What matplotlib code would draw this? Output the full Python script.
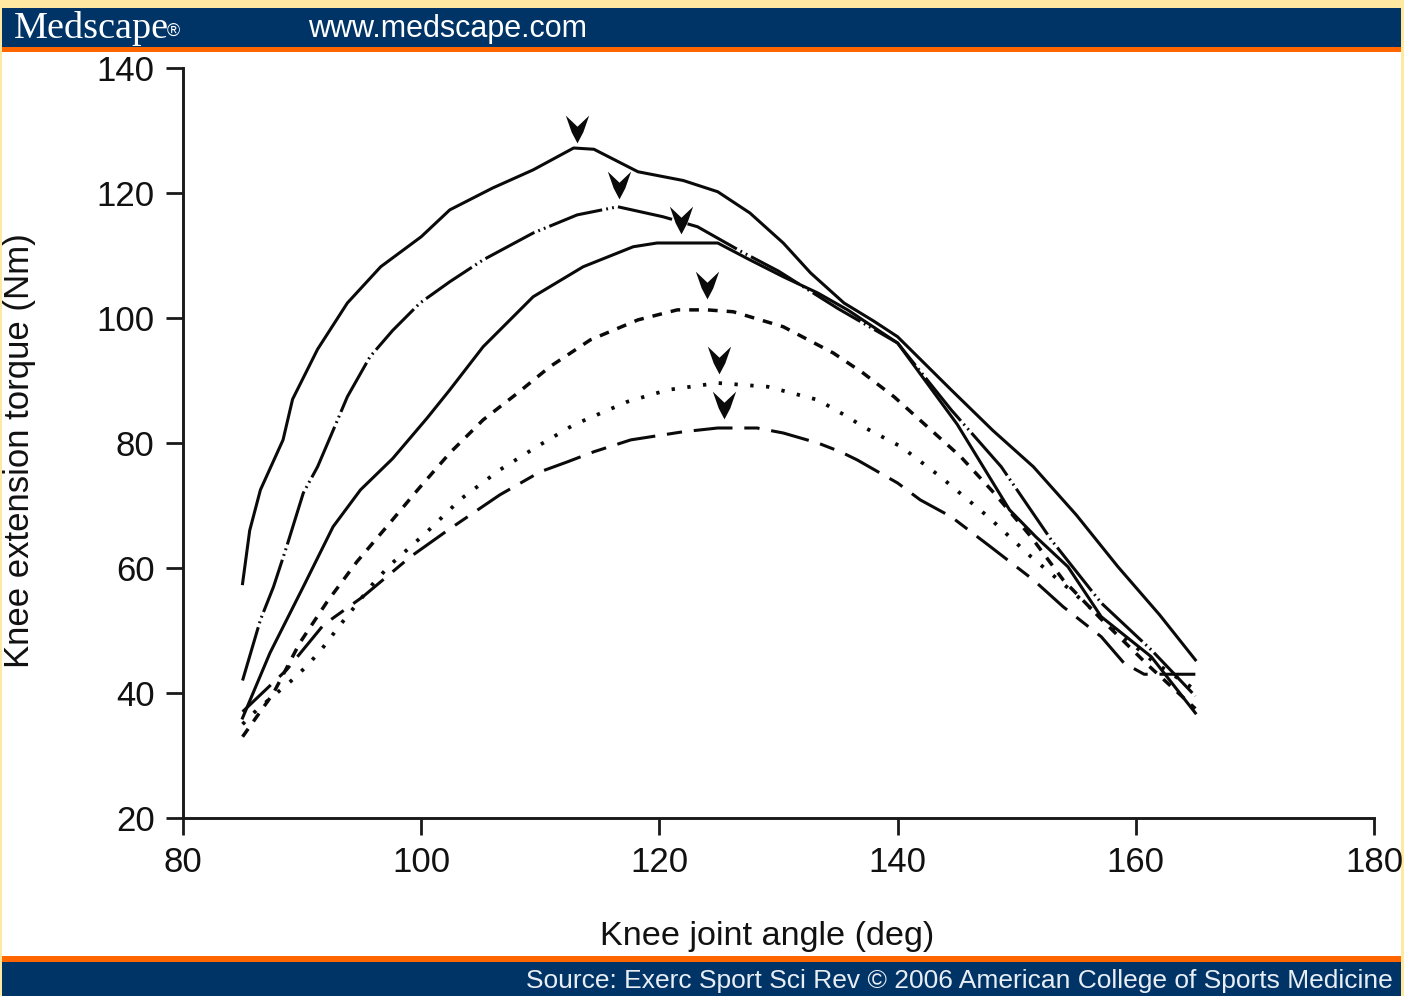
import matplotlib
matplotlib.use("Agg")
import matplotlib.pyplot as plt
from matplotlib.patches import Rectangle
from matplotlib.path import Path

plt.rcParams['font.family'] = ['Liberation Sans', 'DejaVu Sans']
plt.rcParams['lines.scale_dashes'] = False

# ---------------- data ----------------
x_ticks = [80, 100, 120, 140, 160, 180]
y_ticks = [20, 40, 60, 80, 100, 120, 140]

c1_x = [85, 85.6, 86.5, 88.4, 89.2, 91.3, 93.8, 96.6, 100, 102.4, 106, 109.4, 112.8, 114.5,
        118.2, 122, 124.9, 127.6, 130.4, 132.7, 135.5, 138, 140, 144.5, 148, 151.4, 155, 158.5, 162, 165]
c1_y = [57.5, 66, 72.5, 80.5, 87, 95, 102.4, 108.2, 113, 117.3, 120.8, 123.7, 127.2, 127,
        123.4, 122, 120.2, 116.8, 112, 107.2, 102.4, 99.5, 97, 88.5, 82, 76.2, 68.5, 60.2, 52.5, 45.3]

c2_x = [85, 86.5, 87.6, 88.7, 90.1, 91.3, 92.6, 93.8, 95.7, 97.6, 99.9, 102.4, 105.2, 109.4,
        113.1, 116.5, 120.3, 123.2, 127, 130, 135, 140, 144.5, 148.7, 152.9, 157.1, 161.3, 165]
c2_y = [42, 51.7, 57, 63.4, 72, 76.2, 82, 87.4, 93.8, 98, 102.4, 105.8, 109.3, 113.6,
        116.5, 117.8, 116.2, 114.6, 110.5, 107.5, 101.5, 96, 85.3, 76.2, 64.5, 54.4, 46.9, 39.5]

c3_x = [85, 87.3, 90.1, 92.6, 94.9, 97.6, 100.5, 102.4, 105.2, 109.4, 113.6, 117.8, 119.8,
        124.9, 127.6, 130.4, 133.3, 135.8, 140, 145, 149.4, 151.6, 154.3, 157.1, 161.3, 165]
c3_y = [36, 46.4, 57, 66.6, 72.5, 77.5, 84, 88.5, 95.4, 103.4, 108.2, 111.4, 112,
        112, 109.3, 106.6, 104, 101.3, 96, 83, 69.3, 65, 60.2, 52.2, 45.8, 36.8]

c4_x = [85, 87.6, 89.8, 92.1, 94.6, 97.1, 99.7, 102.4, 105.2, 108.1, 110.8, 114.2, 118.2, 121.5,
        124, 126.2, 130.4, 134.6, 137.1, 139.7, 142.5, 145.3, 148.1, 151.2, 153.9, 157, 161, 165]
c4_y = [33, 40, 48, 54.6, 61, 66.6, 72.5, 78.4, 83.7, 88, 92.2, 96.5, 99.7, 101.3,
        101.3, 101, 98.6, 94.4, 91.2, 87.4, 82.6, 77.8, 72, 65, 58.1, 52, 44.5, 37.5]

c5_x = [85, 86.2, 89, 90.5, 91.8, 93.2, 96, 97.4, 100.5, 103.3, 106.6, 109.7, 112.8, 117.3,
        120.7, 124.9, 129.1, 133.3, 135.8, 137.1, 140.3, 143.6, 147.6, 151.2, 154.5, 158, 161.5, 165]
c5_y = [35, 37.3, 41.8, 44.5, 47.4, 50.9, 57.6, 60.5, 65.8, 71, 75.7, 79.4, 82.9, 86.6,
        88.5, 89.6, 89, 86.9, 84.2, 82.6, 79.4, 74.6, 68.2, 61.8, 56.5, 50.5, 45, 40.5]

c6_x = [85, 88.7, 91.8, 95.1, 99.1, 102.2, 106.6, 110, 112.3, 114.5, 117.6, 122, 124.9, 128.2,
        130.4, 133.3, 135.2, 136.6, 140, 141.9, 144.5, 147.8, 151.4, 153.9, 157.1, 159, 160.7, 165]
c6_y = [37, 43.7, 50.9, 55.4, 61.8, 66, 71.7, 75.4, 77, 78.6, 80.5, 81.8, 82.4, 82.4,
        81.6, 80, 78.6, 77.3, 73.6, 70.9, 68.2, 63.4, 58.1, 53.8, 49, 44.8, 43, 43]

arrow_x = [113.1, 116.6, 121.8, 124.0, 125.0, 125.4]
arrow_y = [130.2, 121.3, 115.7, 105.3, 93.3, 86.1]

# ---------------- figure ----------------
W, H = 1404, 996
fig = plt.figure(figsize=(W / 100, H / 100), dpi=100)
fig.patch.set_facecolor('#FFE8A2')

def rect(x0, y0, x1, y1, color):
    fig.patches.append(Rectangle((x0 / W, 1 - y1 / H), (x1 - x0) / W, (y1 - y0) / H,
                                 transform=fig.transFigure, facecolor=color,
                                 edgecolor='none', zorder=-10))

BLUE = '#003366'
ORANGE = '#FF6600'
rect(2, 8, 1401, 48, BLUE)
rect(2, 47.5, 1401, 52, ORANGE)
rect(2, 52, 1401, 956, 'white')
rect(2, 956, 1401, 962, ORANGE)
rect(2, 962, 1401, 996, BLUE)

fig.text(14 / W, 1 - 29 / H, 'Medscape', color='white', fontsize=27.5,
         family=['Liberation Serif', 'DejaVu Serif'], va='center', ha='left')
fig.text(167 / W, 1 - 31 / H, '®', color='white', fontsize=13,
         family=['Liberation Sans', 'DejaVu Sans'], va='center', ha='left')
fig.text(308 / W, 1 - 29 / H, 'www.medscape.com', color='white', fontsize=22,
         va='center', ha='left')
fig.text(1393 / W, 1 - 981 / H,
         'Source: Exerc Sport Sci Rev \u00a9 2006 American College of Sports Medicine',
         color='#E8EEF4', fontsize=19, va='center', ha='right')

# axes
ax = fig.add_axes([183 / W, 1 - 818 / H, (1374 - 183) / W, (818 - 68) / H])
ax.set_facecolor('none')
ax.set_xlim(80, 180)
ax.set_ylim(20, 140)
ax.set_xticks(x_ticks)
ax.set_yticks(y_ticks)
for s in ['top', 'right']:
    ax.spines[s].set_visible(False)
for s in ['left', 'bottom']:
    ax.spines[s].set_linewidth(2.1)
    ax.spines[s].set_color('#1a1a1a')
ax.tick_params(direction='out', length=12.5, width=2.0, color='#1a1a1a',
               labelsize=25, pad=8, labelcolor='#111111')

LW = 2.2
col = '#0a0a0a'
ax.plot(c1_x, c1_y, color=col, lw=LW, solid_joinstyle='round')
ax.plot(c2_x, c2_y, color=col, lw=LW, dashes=(40, 3, 1.3, 3, 1.3, 3))
ax.plot(c3_x, c3_y, color=col, lw=LW, solid_joinstyle='round')
ax.plot(c4_x, c4_y, color=col, lw=LW + 0.3, dashes=(7, 6.5))
ax.plot(c5_x, c5_y, color=col, lw=LW + 0.5, dashes=(2.4, 9))
ax.plot(c6_x, c6_y, color=col, lw=LW, dashes=(28, 8.5, 11, 8.5))

arrow_path = Path([(0, -0.5), (0.21, -0.1), (0.42, 0.5), (0, 0.1), (-0.42, 0.5),
                   (-0.21, -0.1), (0, -0.5)],
                  [Path.MOVETO, Path.LINETO, Path.LINETO, Path.LINETO, Path.LINETO,
                   Path.LINETO, Path.CLOSEPOLY])
ax.plot(arrow_x, arrow_y, linestyle='none', marker=arrow_path, markersize=20,
        color=col, markeredgewidth=0)

fig.text(767 / W, 1 - 936 / H, 'Knee joint angle (deg)', fontsize=24.7,
         ha='center', va='center', color='#111111')
fig.text(20 / W, 1 - 451 / H, 'Knee extension torque (Nm)', fontsize=25,
         ha='center', va='center', rotation=90, color='#111111')

fig.savefig('out.png', dpi=100, facecolor=fig.get_facecolor())
